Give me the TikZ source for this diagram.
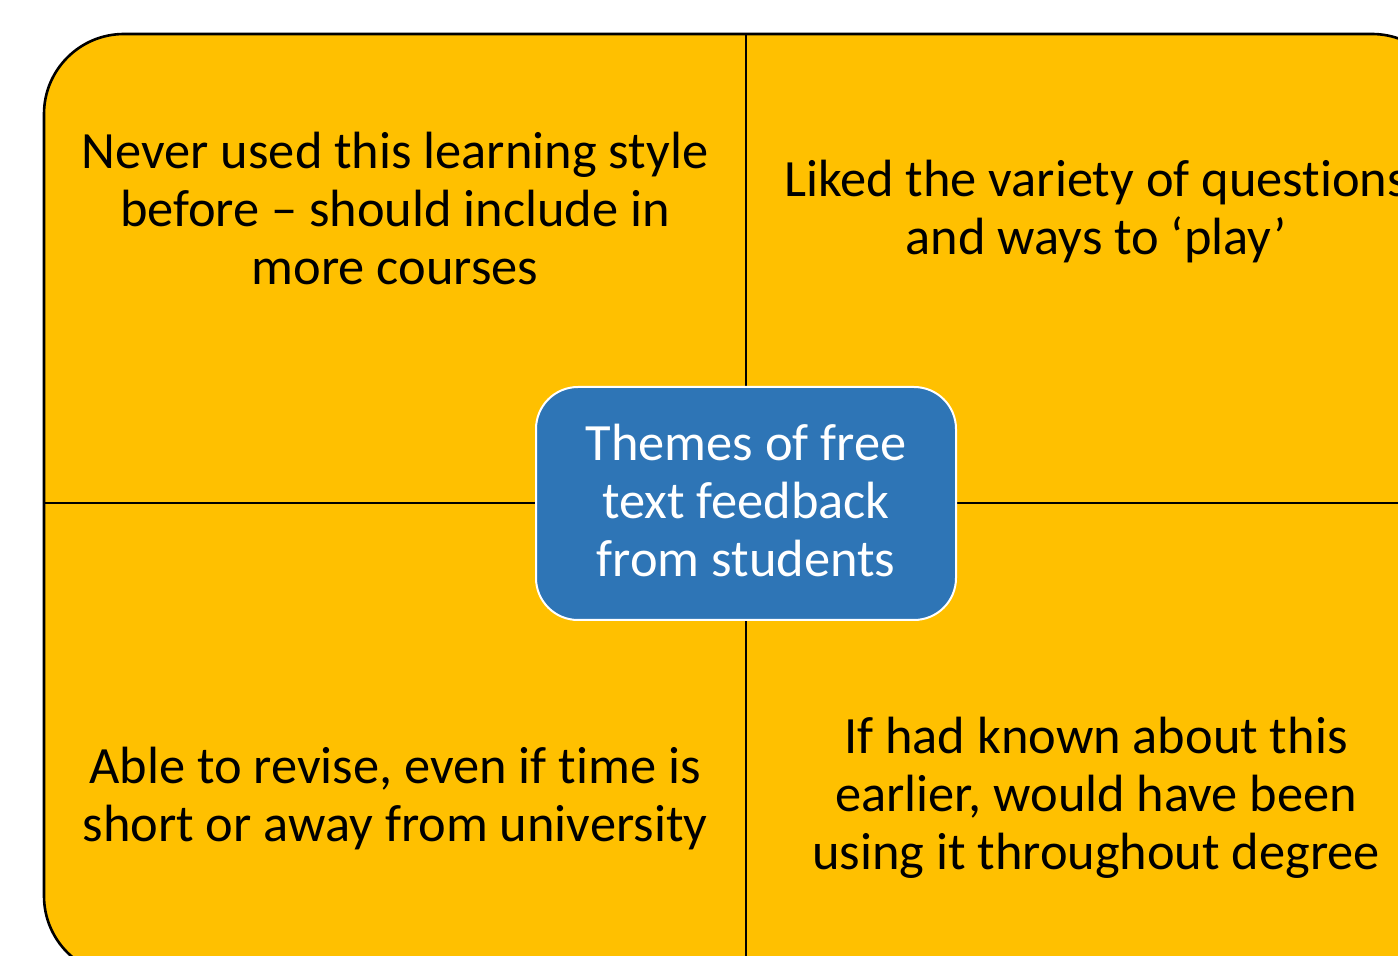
\documentclass[tikz,border=0pt]{standalone}
\usepackage{fontspec}
\setmainfont{Carlito}[Ligatures=NoCommon]
\definecolor{slideorange}{HTML}{FFC000}
\definecolor{slideblue}{HTML}{2E75B6}
\begin{document}
\begin{tikzpicture}[x=0.5pt,y=-0.5pt,
  quadtext/.style={align=center, text=black, font=\fontsize{26.2}{29}\selectfont, inner sep=0pt},
  hubbox/.style={draw=white, line width=1pt, fill=slideblue, rounded corners=21pt,
     minimum width=210pt, minimum height=116.5pt, inner sep=0pt},
  hubtextstyle/.style={text=white, align=center, font=\fontsize{26.2}{29}\selectfont, inner sep=0pt},
  divider/.style={line width=1pt, draw=black}]
\useasboundingbox (0,0) rectangle (1398,956);
\clip (0,0) rectangle (1398,956);
\fill[white] (0,0) rectangle (1398,956);
% outer rounded panel
\draw[fill=slideorange, line width=1.3pt, rounded corners=40pt] (44,34) rectangle (1452,976);
% named boundary coordinates
\coordinate (top) at (746,34);
\coordinate (bottom) at (746,976);
\coordinate (left) at (44,503);
\coordinate (right) at (1452,503);
\draw[divider] (top) -- (bottom);
\draw[divider] (left) -- (right);
% hub
\node[hubbox] (hub) at (746,503.5) {};
\node[hubtextstyle] (hubtext) at (746,501) {Themes of free\\text feedback\\from students};
% quadrant texts
\node[quadtext] (q1) at (395,209) {Never used this learning style\\before -- should include in\\more courses};
\node[quadtext] (q2) at (1096,212) {Liked the variety of questions\\and ways to ‘play’};
\node[quadtext] (q3) at (395,798.5) {Able to revise, even if time is\\short or away from university};
\node[quadtext] (q4) at (1096,798) {If had known about this\\earlier, would have been\\using it throughout degree};
\end{tikzpicture}
\end{document}
